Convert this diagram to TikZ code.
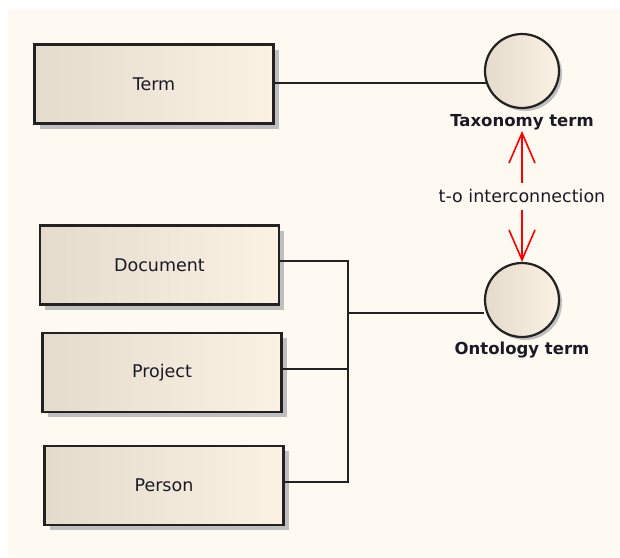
\documentclass[tikz,border=0pt]{standalone}
\usepackage{fontspec}
\setmainfont{DejaVu Sans}
\usetikzlibrary{shadows,arrows.meta}
\definecolor{bg}{HTML}{FEFAF2}
\definecolor{fillL}{HTML}{E4DBCD}
\definecolor{fillR}{HTML}{FBF2E4}
\definecolor{edge}{HTML}{222222}
\definecolor{txt}{HTML}{1A1A26}
\tikzset{
  cls/.style={draw=edge, line width=2.4pt, minimum width=239pt, minimum height=79pt,
    left color=fillL, right color=fillR, text=txt,
    font=\fontsize{17.5}{20}\selectfont,
    drop shadow={shadow xshift=5pt, shadow yshift=-5pt, fill=black!25, opacity=1}},
  iface/.style={circle, draw=edge, line width=2.2pt, minimum size=74pt, inner sep=0pt,
    shading=axis, left color=fillL, middle color=fillR!80!white, right color=fillR,
    drop shadow={shadow xshift=3pt, shadow yshift=-3pt, fill=black!25, opacity=1}},
  ilabel/.style={font=\bfseries\fontsize{16.5}{19}\selectfont, text=txt, inner sep=1pt},
  conn/.style={draw=edge, line width=2pt},
  rel/.style={draw=red, line width=1.6pt, {Straight Barb[length=30pt,width=26pt,line width=1.6pt]}-{Straight Barb[length=30pt,width=26pt,line width=1.6pt]}}
}
\begin{document}
\begin{tikzpicture}[x=1pt,y=-1pt]
\useasboundingbox (0,0) rectangle (620,557);
\fill[bg] (8,10) rectangle (620,557);
\node[cls] (term) at (154,84) {Term};
\node[cls] (doc) at (159.5,265) {Document};
\node[cls] (proj) at (162,372.5) {Project};
\node[cls] (per) at (164,485.5) {Person};
\node[iface] (tax) at (522,71) {};
\node[iface] (onto) at (522,300) {};
\node[ilabel] (taxl) at (522,122) {Taxonomy term};
\node[ilabel] (ontol) at (522,350) {Ontology term};
\coordinate (jn) at (348,313);
\draw[conn] (tax.198.7) -- (tax.198.7 -| term.east);
\draw[conn] ([yshift=4pt]doc.east) -| (jn) |- ([yshift=4pt]per.east);
\draw[conn] ([yshift=4pt]proj.east) -- ([yshift=4pt]proj.east -| jn);
\draw[conn] (jn) -- (jn -| onto.west) ;
\draw[rel] (taxl.south) -- node[fill=bg, inner xsep=2pt, inner ysep=7pt, text=txt, font=\fontsize{17.5}{20}\selectfont] (rell) {t-o interconnection} (onto.north);
\end{tikzpicture}
\end{document}
